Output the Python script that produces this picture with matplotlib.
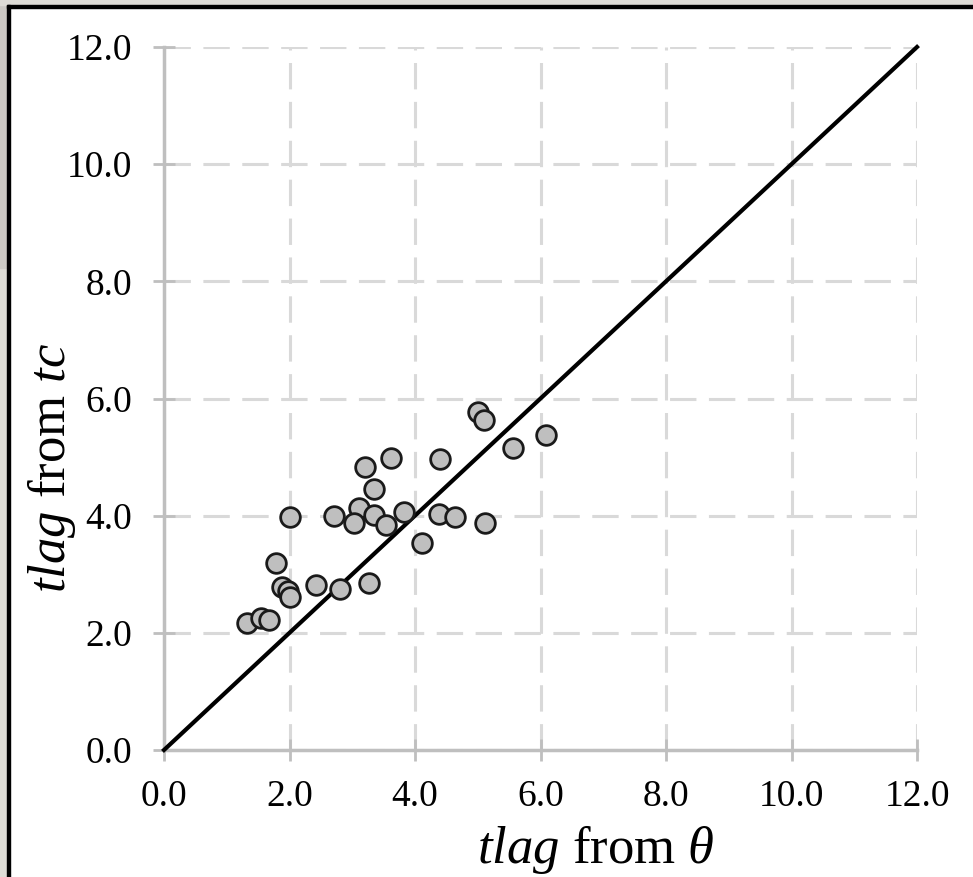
import numpy as np
import matplotlib
matplotlib.use('Agg')
import matplotlib.pyplot as plt
from matplotlib.patches import Rectangle

plt.rcParams['font.family'] = ['Liberation Serif', 'DejaVu Serif']
plt.rcParams['mathtext.fontset'] = 'custom'
plt.rcParams['mathtext.rm'] = 'Liberation Serif'
plt.rcParams['mathtext.it'] = 'Liberation Serif:italic'
plt.rcParams['lines.scale_dashes'] = False

# tlag estimated from theta (x) and from tc (y)
tlag_theta = [1.32, 1.54, 1.68, 1.78, 1.88, 1.98, 2.00, 2.00, 2.42, 2.80, 2.71,
              3.10, 3.03, 3.34, 3.53, 3.21, 3.35, 3.62, 3.27, 3.82, 4.11, 4.38,
              4.64, 4.40, 5.12, 5.01, 5.10, 5.56, 6.08]
tlag_tc = [2.17, 2.25, 2.22, 3.19, 2.79, 2.72, 2.61, 3.97, 2.82, 2.75, 4.00,
           4.13, 3.87, 4.01, 3.84, 4.83, 4.46, 4.99, 2.85, 4.07, 3.54, 4.03,
           3.97, 4.97, 3.88, 5.77, 5.64, 5.15, 5.38]
ticks = [0, 2, 4, 6, 8, 10, 12]
one_to_one = [0, 12]

fig = plt.figure(figsize=(9.73, 8.77), dpi=100)
ax = fig.add_axes([164/973, 1 - 750/877, 753/973, 703/877])

ax.set_xlim(0, 12)
ax.set_ylim(0, 12)
ax.set_xticks(ticks)
ax.set_yticks(ticks)
ax.set_xticklabels(['%.1f' % t for t in ticks])
ax.set_yticklabels(['%.1f' % t for t in ticks])

ax.grid(True, color='#d9d9d9', linewidth=2.2, linestyle=(0, (19, 9)))
ax.set_axisbelow(True)
for side in ['top', 'right']:
    ax.spines[side].set_visible(False)
for side in ['left', 'bottom']:
    ax.spines[side].set_color('#bfbfbf')
    ax.spines[side].set_linewidth(2.5)
ax.tick_params(direction='inout', length=16, width=2, color='#bfbfbf',
               labelsize=27)
ax.tick_params(axis='y', pad=15)
ax.tick_params(axis='x', pad=13)

ax.plot(one_to_one, one_to_one, color='black', linewidth=3.0, zorder=3,
        clip_on=False)
ax.scatter(tlag_theta, tlag_tc, s=200, facecolor='#bfbfbf',
           edgecolor='#1a1a1a', linewidth=2.0, zorder=4)

ax.set_xlabel(r'$tlag$ from $\theta$', fontsize=38, va='center')
ax.set_ylabel(r'$tlag$ from $tc$', fontsize=38, va='center')
ax.xaxis.set_label_coords(0.573, -0.141)
ax.yaxis.set_label_coords(-0.150, 0.401)

# window frame around the chart
fig.add_artist(Rectangle((0, 0), 6.5/973, 1, transform=fig.transFigure,
                         color='#dedcd6', zorder=0))
fig.add_artist(Rectangle((0, 1 - 268/877), 6.5/973, 268/877,
                         transform=fig.transFigure, color='#ccc9c4', zorder=0))
fig.add_artist(Rectangle((0, 1 - 4.5/877), 1, 4.5/877,
                         transform=fig.transFigure, color='#dedcd6', zorder=0))
fig.add_artist(Rectangle((6.5/973, 0), 3.5/973, 1 - 4.5/877,
                         transform=fig.transFigure, color='black', zorder=1))
fig.add_artist(Rectangle((6.5/973, 1 - 7.5/877), 1, 3/877,
                         transform=fig.transFigure, color='black', zorder=1))

fig.savefig('out.png', dpi=100)
